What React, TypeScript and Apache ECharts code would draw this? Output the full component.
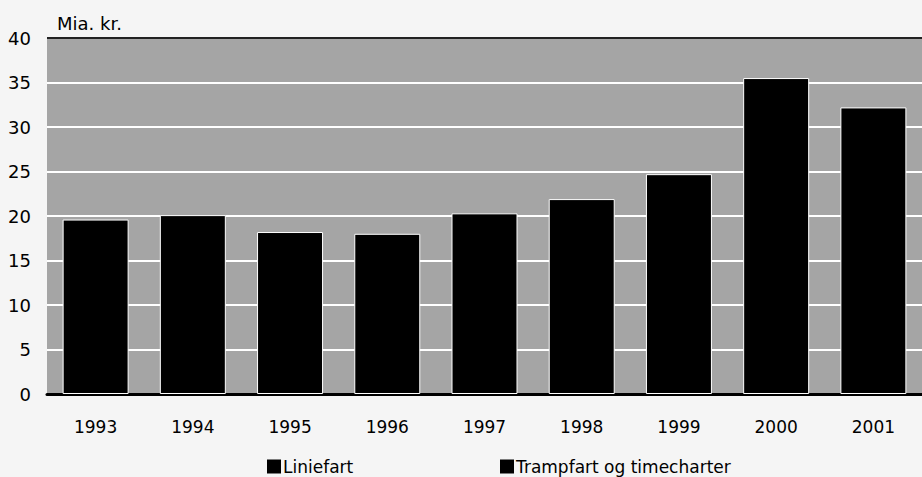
import React, { useEffect, useRef } from "react";
import * as echarts from "echarts";

const years = ["1993", "1994", "1995", "1996", "1997", "1998", "1999", "2000", "2001"];
// Total height of each bar (both segments print black in the source)
const totals = [19.6, 20.1, 18.2, 18.0, 20.3, 21.9, 24.7, 35.5, 32.2];
const legendNames = ["Liniefart", "Trampfart og timecharter"];
const yTicks = { min: 0, max: 40, interval: 5 };

const FONT = "'DejaVu Sans', sans-serif";

export default function App() {
  const ref = useRef<HTMLDivElement>(null);
  useEffect(() => {
    if (!ref.current) return;
    const chart = echarts.init(ref.current, null, { renderer: "svg" });
    const splitColors = ["#000", "#fff", "#fff", "#fff", "#fff", "#fff", "#fff", "#fff", "#222"];
    const legendText = { fontFamily: FONT, fontSize: 17, color: "#000", padding: [0, 0, 0, -3] };
    chart.setOption({
      animation: false,
      backgroundColor: "#f5f5f5",
      title: {
        text: "Mia. kr.",
        left: 52,
        top: 9,
        textStyle: { fontFamily: FONT, fontSize: 18, fontWeight: "normal", color: "#000" },
      },
      legend: [
        {
          data: [legendNames[0]],
          left: 262,
          top: 453,
          icon: "rect",
          itemWidth: 14,
          itemHeight: 14,
          textStyle: legendText,
        },
        {
          data: [legendNames[1]],
          left: 495,
          top: 453,
          icon: "rect",
          itemWidth: 14,
          itemHeight: 14,
          textStyle: legendText,
        },
      ],
      grid: {
        left: 47,
        right: -3,
        top: 38,
        bottom: 83,
        show: true,
        backgroundColor: "#a5a5a5",
        borderWidth: 0,
      },
      xAxis: {
        type: "category",
        data: years,
        axisLine: { show: true, lineStyle: { color: "#000", width: 3 } },
        axisTick: { show: false },
        axisLabel: { fontFamily: FONT, fontSize: 17, color: "#000", margin: 24 },
      },
      yAxis: {
        type: "value",
        min: yTicks.min,
        max: yTicks.max,
        interval: yTicks.interval,
        axisLine: { show: false },
        axisTick: { show: false },
        axisLabel: { fontFamily: FONT, fontSize: 18, color: "#000", margin: 16 },
        splitLine: { show: true, lineStyle: { color: splitColors, width: 2 } },
      },
      series: [
        {
          name: legendNames[0],
          type: "bar",
          data: [],
          itemStyle: { color: "#000" },
          barWidth: 66,
          barGap: "-100%",
        },
        {
          name: legendNames[1],
          type: "bar",
          data: [],
          itemStyle: { color: "#000" },
          barWidth: 66,
          barGap: "-100%",
        },
        {
          name: "I alt",
          type: "bar",
          data: totals,
          barWidth: 66,
          barGap: "-100%",
          itemStyle: { color: "#000", borderColor: "#fff", borderWidth: 1 },
        },
      ],
    });
    return () => chart.dispose();
  }, []);
  return (
    <div
      ref={ref}
      style={{ position: "fixed", left: 0, top: 0, width: 922, height: 477 }}
    />
  );
}
